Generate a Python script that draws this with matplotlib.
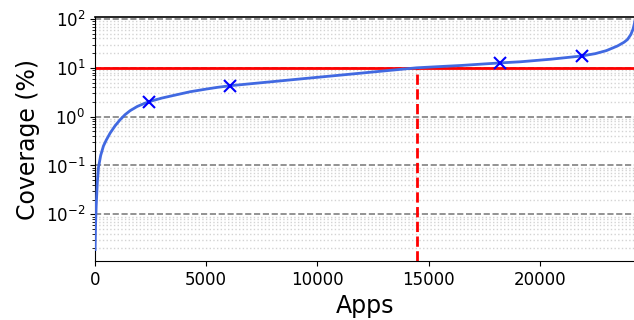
import matplotlib
matplotlib.use("Agg")
import matplotlib.pyplot as plt
from matplotlib.ticker import LogLocator


# coverage curve (apps sorted by coverage)
apps_x = [0, 20, 50, 100, 150, 250, 375, 500, 675, 900, 1130, 1350, 1580,
          1900, 2200, 2430, 3000, 3500, 4280, 5000, 5500, 6080, 7000, 8000,
          9000, 10000, 11000, 12000, 13000, 14460, 15500, 16500, 17500,
          18220, 19140, 20500, 21900, 22500, 23000, 23500, 23800, 23950,
          24100, 24200, 24260, 24300]
coverage_y = [0.0019, 0.006, 0.015, 0.045, 0.09, 0.16, 0.25, 0.33, 0.46,
              0.65, 0.87, 1.1, 1.33, 1.62, 1.85, 2.03, 2.4, 2.7, 3.24, 3.67,
              3.98, 4.3, 4.72, 5.22, 5.78, 6.39, 7.06, 7.81, 8.64, 10.0, 10.6,
              11.2, 12.0, 12.6, 13.3, 15.0, 17.5, 19.5, 22.5, 28.0, 33.5,
              38.0, 48.0, 62.0, 80.0, 100.0]

marker_x = [2430, 6080, 18220, 21900]
marker_y = [2.03, 4.3, 12.6, 17.5]

threshold = 10.0
threshold_x = 14460
x_max = 24300


def main():
    fig = plt.figure(figsize=(6.34, 3.2), dpi=100)
    ax = fig.add_axes([0.15, 0.184, 0.852, 0.763])

    ax.set_yscale("log")
    ax.set_xlim(0, x_max)
    ax.set_ylim(0.0011, 110)

    ax.yaxis.set_major_locator(LogLocator(base=10, numticks=10))
    ax.yaxis.set_minor_locator(LogLocator(base=10, subs=range(2, 10), numticks=10))
    ax.grid(True, which="major", axis="y", linestyle="--", color="gray", linewidth=1.2)
    ax.grid(True, which="minor", axis="y", linestyle=":", color="lightgray", linewidth=1)
    ax.set_axisbelow(True)

    ax.plot(apps_x, coverage_y, color="royalblue", linewidth=2, zorder=3)
    ax.axhline(threshold, color="red", linewidth=2, zorder=2)
    ax.vlines(threshold_x, 0.0011, threshold, colors="red", linestyles="--",
              linewidth=2, zorder=2)
    ax.plot(marker_x, marker_y, linestyle="none", marker="x", color="blue",
            markersize=8, markeredgewidth=1.5, zorder=4)

    ax.set_xticks([0, 5000, 10000, 15000, 20000])
    ax.tick_params(axis="both", labelsize=12)
    ax.spines["right"].set_visible(False)
    ax.spines["top"].set_linewidth(1.2)

    ax.set_xlabel("Apps", fontsize=17)
    ax.set_ylabel("Coverage (%)", fontsize=17)

    fig.savefig("out.png", dpi=100)


if __name__ == "__main__":
    main()
